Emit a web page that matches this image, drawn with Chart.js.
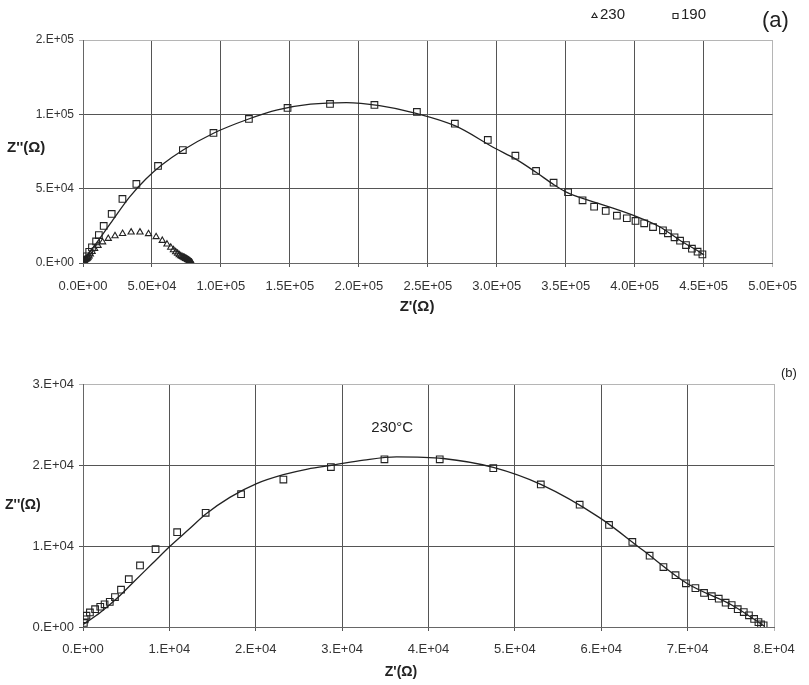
<!DOCTYPE html>
<html>
<head>
<meta charset="utf-8">
<script src="https://cdn.jsdelivr.net/npm/chart.js@4.4.1/dist/chart.umd.min.js"></script>
<style>
    body { margin: 0; background: #fff; }
    .panel { position: absolute; left: 0; }
    #panelA { top: 0; }
    #panelB { top: 325px; }
</style>
</head>
<body>
<div class="panel" id="panelA"><canvas id="chartA" width="809" height="325"></canvas></div>
<div class="panel" id="panelB"><canvas id="chartB" width="809" height="360"></canvas></div>
<script>
// ---- data (impedance, ohm) ----

// 230 °C measured points (used in (a) as triangles and in (b) as squares)
const z230Re = [100, 200, 400, 800, 1400, 2000, 2500, 3100, 3700, 4400, 5300, 6600, 8400, 10900,
    14200, 18300, 23200, 28700, 34900, 41300, 47500, 53000, 57500, 60900, 63600, 65600, 67200,
    68600, 69800, 70900, 71900, 72800, 73600, 74400, 75100, 75800, 76500, 77100, 77700, 78200,
    78500, 78800];
const z230Im = [500, 950, 1400, 1800, 2200, 2500, 2800, 3100, 3700, 4600, 5900, 7600, 9600, 11700,
    14100, 16400, 18200, 19750, 20700, 20700, 19600, 17600, 15100, 12600, 10500, 8800, 7400,
    6400, 5400, 4800, 4200, 3800, 3500, 3000, 2700, 2200, 1850, 1450, 1000, 600,
    330, 200];

// 230 °C fitted curve
const fit230Re = [0, 2000, 4100, 5800, 8000, 10100, 12200, 14300, 17000, 20100, 23200, 26000,
    29000, 32500, 36300, 41700, 47500, 53000, 59800, 64800, 69900, 75300, 78900];
const fit230Im = [300, 1800, 3700, 5500, 7800, 10000, 12000, 14000, 16000, 17700, 18800, 19500,
    20000, 20600, 21000, 20800, 19700, 17600, 13500, 9500, 5400, 2600, 100];

// 190 °C measured points
const z190Re = [1000, 2500, 4500, 6500, 9500, 11500, 15000, 20800, 28600, 38700, 54400, 72400,
    94600, 120300, 148300, 179100, 211300, 242100, 269600, 293500, 313500, 328500, 341200,
    351700, 362200, 370600, 379000, 387100, 394300, 400600, 406900, 413300, 420500, 424100,
    428900, 432900, 437200, 441500, 445600, 449100];
const z190Im = [2000, 4500, 7500, 10500, 14500, 18800, 24900, 33000, 43100, 53200, 65300, 76000,
    87500, 96900, 104300, 107000, 106300, 101600, 93700, 82800, 72200, 61900, 54000,
    47600, 42200, 37900, 35000, 31800, 30100, 28300, 26700, 24200, 22000, 20000,
    17300, 15000, 12100, 9600, 7600, 5800];

// 190 °C fitted curve
const fit190Re = [300, 12200, 21700, 33700, 45600, 57500, 72600, 94600, 119600, 141000, 165000,
    191000, 215000, 240000, 270000, 298700, 313500, 328500, 341700, 351200, 377500, 401400,
    418100, 432400, 446700, 450300];
const fit190Im = [1500, 16500, 29000, 44300, 56500, 66200, 76000, 87300, 96700, 103000, 106800,
    107900, 105800, 101000, 92200, 77200, 70000, 61000, 52500, 47300, 39000, 31200,
    24400, 15500, 7600, 5400];

// tick labels as printed on the figure
const aXTickLabels = ['0.0E+00', '5.0E+04', '1.0E+05', '1.5E+05', '2.0E+05', '2.5E+05',
    '3.0E+05', '3.5E+05', '4.0E+05', '4.5E+05', '5.0E+05'];
const aYTickLabels = ['0.E+00', '5.E+04', '1.E+05', '2.E+05'];
const bXTickLabels = ['0.E+00', '1.E+04', '2.E+04', '3.E+04', '4.E+04', '5.E+04', '6.E+04',
    '7.E+04', '8.E+04'];
const bYTickLabels = ['0.E+00', '1.E+04', '2.E+04', '3.E+04'];

const toPoints = (xs, ys) => xs.map((x, i) => ({ x: x, y: ys[i] }));

const INK = '#222';
const FONT = '"Liberation Sans", Arial, sans-serif';

function markerSet(label, xs, ys, style, radius) {
    return {
        label: label,
        data: toPoints(xs, ys),
        showLine: false,
        pointStyle: style,
        pointRadius: radius,
        pointBorderColor: INK,
        pointBackgroundColor: 'rgba(0,0,0,0)',
        pointBorderWidth: 1.1
    };
}

function fitSet(xs, ys) {
    return {
        label: 'fit',
        data: toPoints(xs, ys),
        showLine: true,
        pointRadius: 0,
        borderColor: INK,
        borderWidth: 1.3,
        cubicInterpolationMode: 'monotone'
    };
}

// grid colour: outer top / right lines lighter, as in the figure
function gridColor(max) {
    return (ctx) => (ctx.tick && ctx.tick.value === max) ? '#b5b5b5' : '#555';
}

// texts and the small legend drawn on top of the chart
const paperText = {
    id: 'paperText',
    afterDraw(chart, args, opts) {
        const ctx = chart.ctx;
        ctx.save();
        (opts.marks || []).forEach(m => {
            const pt = { pointStyle: m.style, radius: m.radius, borderWidth: 1.1 };
            ctx.strokeStyle = INK;
            ctx.fillStyle = 'rgba(0,0,0,0)';
            ctx.lineWidth = 1.1;
            Chart.helpers.drawPoint(ctx, pt, m.x, m.y);
        });
        (opts.texts || []).forEach(t => {
            let x = t.x, y = t.y;
            if (t.dataX !== undefined) {
                x = chart.scales.x.getPixelForValue(t.dataX);
                y = chart.scales.y.getPixelForValue(t.dataY);
            }
            ctx.font = t.font;
            ctx.fillStyle = t.color || INK;
            ctx.textAlign = t.align || 'left';
            ctx.textBaseline = 'middle';
            ctx.fillText(t.text, x, y);
        });
        ctx.restore();
    }
};

function axisOpts(min, max, step, labels, fontSize, size, isX, pad) {
    return {
        type: 'linear',
        min: min,
        max: max,
        afterFit: (scale) => {
            if (isX) scale.height = size; else scale.width = size;
        },
        grid: {
            color: gridColor(max),
            lineWidth: 1,
            tickLength: 4,
            drawTicks: true
        },
        border: { display: true, color: '#666', width: 1 },
        ticks: {
            stepSize: step,
            autoSkip: false,
            maxRotation: 0,
            padding: pad,
            color: '#333',
            font: { family: FONT, size: fontSize },
            callback: (v, i) => labels[i]
        }
    };
}

function baseOptions(padding, xAxis, yAxis, textOpts) {
    return {
        responsive: false,
        animation: false,
        events: [],
        layout: { padding: padding },
        plugins: {
            legend: { display: false },
            tooltip: { enabled: false },
            paperText: textOpts
        },
        scales: { x: xAxis, y: yAxis }
    };
}

// ---- (a) 230 and 190 ----
new Chart(document.getElementById('chartA'), {
    type: 'scatter',
    data: {
        datasets: [
            markerSet('230', z230Re, z230Im, 'triangle', 3.6),
            markerSet('190', z190Re, z190Im, 'rect', 4.7),
            fitSet(fit190Re, fit190Im)
        ]
    },
    options: baseOptions(
        { left: 0, top: 40, right: 28, bottom: 0 },
        axisOpts(0, 500000, 50000, aXTickLabels, 13, 62, true, 12),
        axisOpts(0, 150000, 50000, aYTickLabels, 12, 83, false, 5),
        {
            marks: [
                { style: 'triangle', radius: 3, x: 594.5, y: 16 },
                { style: 'rect', radius: 3.5, x: 675.5, y: 16 }
            ],
            texts: [
                { text: '230', x: 600, y: 15, font: '15px ' + FONT },
                { text: '190', x: 681, y: 15, font: '15px ' + FONT },
                { text: '(a)', x: 762, y: 21, font: '22px ' + FONT },
                { text: "Z''(Ω)", x: 7, y: 148, font: 'bold 15px ' + FONT },
                { text: "Z'(Ω)", x: 417, y: 307, align: 'center', font: 'bold 15px ' + FONT }
            ]
        }
    ),
    plugins: [paperText]
});

// ---- (b) 230 °C ----
new Chart(document.getElementById('chartB'), {
    type: 'scatter',
    data: {
        datasets: [
            markerSet('230', z230Re, z230Im, 'rect', 4.7),
            fitSet(fit230Re, fit230Im)
        ]
    },
    options: baseOptions(
        { left: 0, top: 59, right: 35, bottom: 0 },
        axisOpts(0, 80000, 10000, bXTickLabels, 13, 58, true, 11),
        axisOpts(0, 30000, 10000, bYTickLabels, 13, 83, false, 5),
        {
            marks: [],
            texts: [
                { text: '(b)', x: 781, y: 48, font: '13px ' + FONT },
                { text: '230°C', dataX: 35800, dataY: 24600, align: 'center', font: '15px ' + FONT },
                { text: "Z''(Ω)", x: 5, y: 180, font: 'bold 14px ' + FONT },
                { text: "Z'(Ω)", x: 401, y: 347, align: 'center', font: 'bold 14px ' + FONT }
            ]
        }
    ),
    plugins: [paperText]
});
</script>
</body>
</html>
